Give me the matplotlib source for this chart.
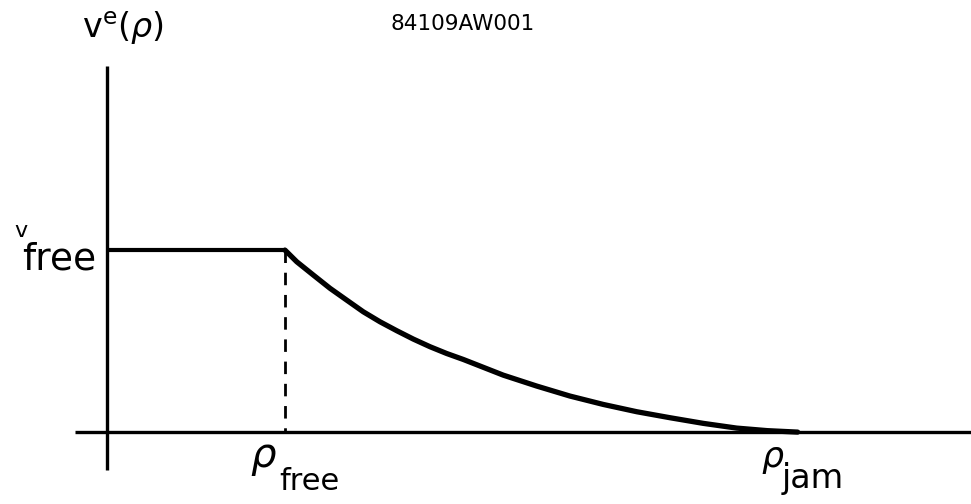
import matplotlib
matplotlib.use("Agg")
import matplotlib.pyplot as plt

plt.rcParams['mathtext.fontset'] = 'dejavusans'

# equilibrium speed-density relation (normalised: rho_free = 1, v_free = 1)
rho_free = 1.0
rho_jam = 3.88
v_free = 1.0

# decaying branch between rho_free and rho_jam
curve_rho = [1.000, 1.066, 1.159, 1.253, 1.347, 1.440, 1.534, 1.628, 1.721,
             1.815, 1.908, 2.002, 2.226, 2.414, 2.601, 2.788, 2.976, 3.163,
             3.350, 3.538, 3.710, 3.880]
curve_v = [1.000, 0.936, 0.863, 0.790, 0.725, 0.661, 0.606, 0.557, 0.511,
           0.469, 0.432, 0.399, 0.313, 0.253, 0.198, 0.152, 0.112, 0.079,
           0.048, 0.022, 0.008, 0.000]

W, H = 971, 504
fig = plt.figure(figsize=(W / 100, H / 100), dpi=100)
ax = fig.add_axes([0, 0, 1, 1])
ax.set_xlim(-0.601, 4.854)
ax.set_ylim(-0.395, 2.374)
ax.axis('off')

def fpos(px, py):
    # pixel position -> figure fraction
    return px / W, 1 - py / H

# axes drawn as plain lines
ax.plot([-0.18, 4.86], [0, 0], color='black', lw=2.4, solid_capstyle='butt')
ax.plot([0, 0], [-0.21, 2.01], color='black', lw=2.4, solid_capstyle='butt')

# free-flow plateau
ax.plot([0, rho_free], [v_free, v_free], color='black', lw=3.0,
        solid_capstyle='butt')
# congested branch
ax.plot(curve_rho, curve_v, color='black', lw=3.8, solid_joinstyle='round',
        solid_capstyle='round')
# dashed drop to rho_free
ax.plot([rho_free, rho_free], [v_free, 0], color='black', lw=2.0,
        dashes=(4.5, 3.5))

# labels
fig.text(*fpos(390, 30), '84109AW001', fontsize=15.5, ha='left', va='baseline')
fig.text(*fpos(82, 38), r'$\mathrm{v}^{\mathrm{e}}(\rho)$', fontsize=24,
         ha='left', va='baseline')

fig.text(*fpos(14, 237), 'v', fontsize=16, ha='left', va='baseline')
fig.text(*fpos(22, 270), 'free', fontsize=27, ha='left', va='baseline')

fig.text(*fpos(250, 467), r'$\rho$', fontsize=29, ha='left', va='baseline')
fig.text(*fpos(279, 490), 'free', fontsize=22, ha='left', va='baseline')

fig.text(*fpos(761, 467), r'$\rho$', fontsize=25, ha='left', va='baseline')
fig.text(*fpos(782, 488), 'jam', fontsize=24, ha='left', va='baseline')

fig.savefig('out.png', dpi=100, facecolor='white')
